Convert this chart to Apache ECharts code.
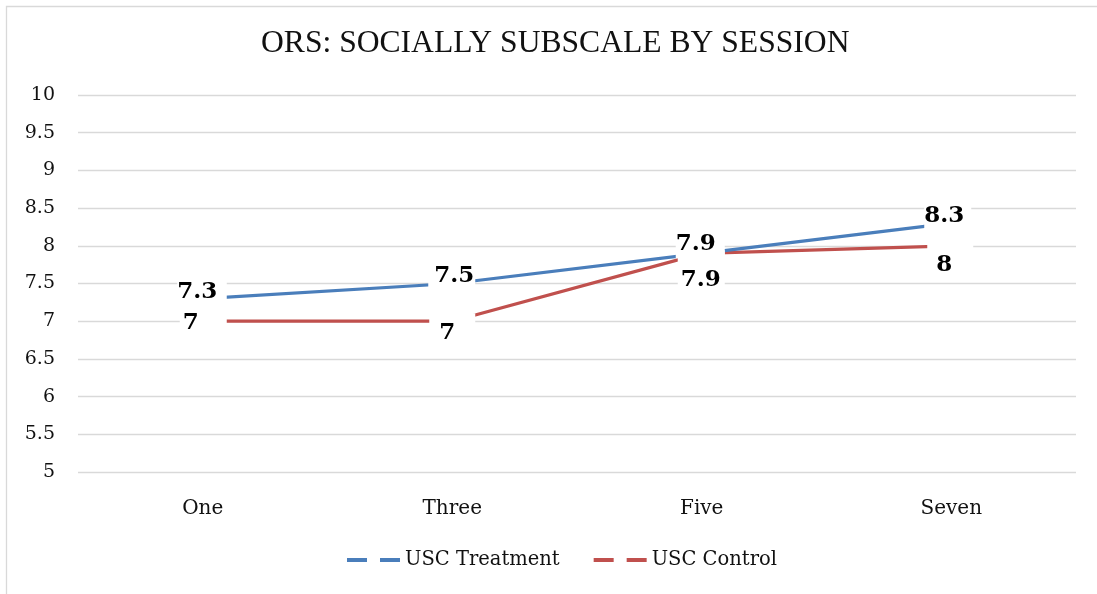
<!DOCTYPE html>
<html>
<head>
<meta charset="utf-8">
<script src="https://cdn.jsdelivr.net/npm/echarts@6/dist/echarts.min.js"></script>
<style>
  html, body { margin: 0; padding: 0; background: #fff; }
  #chart { width: 1097px; height: 594px; }
</style>
</head>
<body>
<div id="chart"></div>
<script>
// Sessions and mean ORS "socially" subscale scores
const categories = ['One', 'Three', 'Five', 'Seven'];
const treatment = [7.3, 7.5, 7.9, 8.3];
const control = [7, 7, 7.9, 8];
const seriesNames = ['USC Treatment', 'USC Control'];
const yMin = 5, yMax = 10, yStep = 0.5;

// Label placement per point: text centre offset [dx, dy] from the point,
// and the white box extent [left, right, top, bottom] relative to the point.
const treatLabelPos = [
  { t: [-5.5, -7],  box: [-25, 24, -17, 5] },
  { t: [2, -7],     box: [-24, 23, -17, 6] },
  { t: [-6, -9.5],  box: [-24, 23, -20, 5] },
  { t: [-7, -7.5],  box: [-24, 20, -17, 5] }
];
const ctrlLabelPos = [
  { t: [-12, 1.5], box: [-23, 24, -8, 12] },
  { t: [-5, 11.5], box: [-23, 23, -8, 20] },
  { t: [-1, 26.5], box: [-24, 23, -3, 34] },
  { t: [-7, 19.5], box: [-24, 22, -3, 28] }
];

const LABEL_SIZE = 23;
const LABEL_LH = 20;
const measureCtx = document.createElement('canvas').getContext('2d');
measureCtx.font = 'bold ' + LABEL_SIZE + 'px "DejaVu Serif"';

// White-backed value label: the box is anchored by its top edge so that
// uneven padding places the text inside it.
function pointLabel(text, pos) {
  const w = measureCtx.measureText(text).width;
  const h = LABEL_LH;
  const tx = pos.t[0], ty = pos.t[1];
  const tl = tx - w / 2, tr = tx + w / 2;
  const tt = ty - h / 2, tb = ty + h / 2;
  const L = Math.min(pos.box[0], tl), R = Math.max(pos.box[1], tr);
  const T = Math.min(pos.box[2], tt), B = Math.max(pos.box[3], tb);
  return {
    show: true,
    position: 'inside',
    verticalAlign: 'top',
    align: 'center',
    offset: [(L + R) / 2, T],
    padding: [tt - T, R - tr, B - tb, tl - L],
    backgroundColor: '#ffffff',
    fontFamily: 'DejaVu Serif',
    fontWeight: 'bold',
    fontSize: LABEL_SIZE,
    lineHeight: LABEL_LH,
    color: '#000000',
    formatter: text
  };
}

function seriesData(values, layout) {
  return values.map((v, i) => ({
    value: v,
    label: pointLabel(String(v), layout[i])
  }));
}

const legendIcon = 'path://M0,0 H20 V4 H0 Z M33,0 H53 V4 H33 Z';

const chart = echarts.init(document.getElementById('chart'), null, { renderer: 'canvas' });
chart.setOption({
  animation: false,
  backgroundColor: '#ffffff',
  graphic: [{
    type: 'rect',
    shape: { x: 6.5, y: 6.5, width: 1200, height: 700 },
    style: { fill: 'none', stroke: '#d9d9d9', lineWidth: 1.3 },
    silent: true,
    z: -1
  }],
  title: {
    text: 'ORS: SOCIALLY SUBSCALE BY SESSION',
    left: 256,
    top: 23,
    textStyle: {
      fontFamily: 'Liberation Serif',
      fontWeight: 'normal',
      fontSize: 31.6,
      color: '#111111'
    }
  },
  legend: {
    bottom: 24,
    left: 347,
    padding: 0,
    itemWidth: 53,
    itemHeight: 4,
    itemGap: 34,
    icon: legendIcon,
    textStyle: {
      fontFamily: 'DejaVu Serif',
      fontSize: 19.5,
      color: '#111111'
    },
    data: seriesNames
  },
  grid: { left: 78, right: 21, top: 95, bottom: 122, containLabel: false },
  xAxis: {
    type: 'category',
    data: categories,
    boundaryGap: true,
    axisLine: { show: false },
    axisTick: { show: false },
    axisLabel: {
      margin: 27,
      fontFamily: 'DejaVu Serif',
      fontSize: 20,
      color: '#111111'
    }
  },
  yAxis: {
    type: 'value',
    min: yMin,
    max: yMax,
    interval: yStep,
    axisLine: { show: false },
    axisTick: { show: false },
    splitLine: { lineStyle: { color: '#d9d9d9', width: 1.3 } },
    axisLabel: {
      margin: 23,
      fontFamily: 'DejaVu Serif',
      fontSize: 19,
      color: '#111111'
    }
  },
  // control first so the treatment labels sit on top where boxes meet
  series: [
    {
      name: seriesNames[1],
      type: 'line',
      data: seriesData(control, ctrlLabelPos),
      symbol: 'circle',
      symbolSize: 1,
      showSymbol: true,
      lineStyle: { color: '#c0504d', width: 3.2 },
      itemStyle: { color: '#c0504d' },
      z: 2
    },
    {
      name: seriesNames[0],
      type: 'line',
      data: seriesData(treatment, treatLabelPos),
      symbol: 'circle',
      symbolSize: 1,
      showSymbol: true,
      lineStyle: { color: '#4a7ebb', width: 3.2 },
      itemStyle: { color: '#4a7ebb' },
      z: 2
    }
  ]
});
</script>
</body>
</html>
